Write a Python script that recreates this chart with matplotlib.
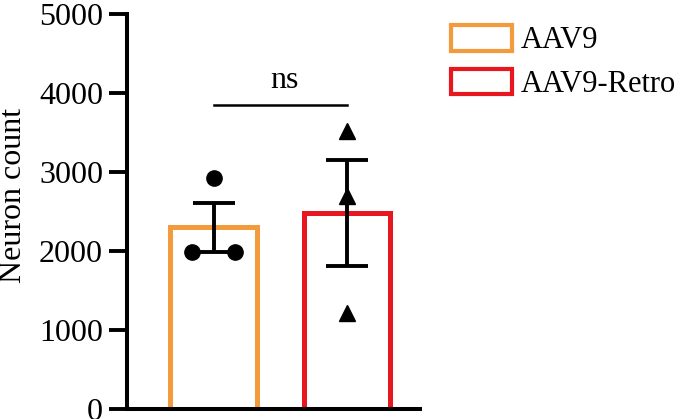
import matplotlib

matplotlib.use("Agg")
import matplotlib.pyplot as plt
import numpy as np
from matplotlib.patches import Patch

plt.rcParams["font.family"] = ["Liberation Serif", "DejaVu Serif"]

groups = ["AAV9", "AAV9-Retro"]
colors = ["#f39b3c", "#e8161e"]
aav9_points = [2920, 1990, 1990]
retro_points = [3520, 2690, 1220]
aav9_jitter = [0.0, -0.16, 0.16]
retro_jitter = [0.0, 0.0, 0.0]
sig_label = "ns"
sig_height = 3840

FS = 23

fig = plt.figure(figsize=(6.85, 4.19), dpi=100)
ax = fig.add_axes([0.185, 0.024, 0.428, 0.943])

x = np.arange(len(groups))
data = [np.array(aav9_points), np.array(retro_points)]
means = [d.mean() for d in data]
sems = [d.std(ddof=1) / np.sqrt(len(d)) for d in data]

ax.bar(x, means, width=0.65, facecolor="white", edgecolor=colors,
       linewidth=3.6, zorder=1)
ax.errorbar(x, means, yerr=sems, fmt="none", ecolor="black",
            elinewidth=2.8, capsize=15, capthick=2.8, zorder=3)

ax.plot(x[0] + np.array(aav9_jitter), aav9_points, "o", color="black",
        markersize=11, zorder=4)
ax.plot(x[1] + np.array(retro_jitter), retro_points, "^", color="black",
        markersize=11, zorder=4)

ax.plot([x[0], x[1]], [sig_height, sig_height], color="black", lw=1.8)
ax.text((x[0] + x[1]) / 2 + 0.03, sig_height + 130, sig_label, ha="center",
        va="bottom", fontsize=FS)

ax.set_xlim(-0.654, 1.55)
ax.set_ylim(0, 5000)
ax.set_yticks(range(0, 5001, 1000))
ax.set_xticks([])
ax.set_ylabel("Neuron count", fontsize=FS, va="center")
ax.yaxis.set_label_coords(-0.385, 0.54)
ax.tick_params(axis="y", labelsize=FS, width=2.8, length=13, pad=4)
for side in ["top", "right"]:
    ax.spines[side].set_visible(False)
for side in ["left", "bottom"]:
    ax.spines[side].set_linewidth(2.9)

handles = [Patch(facecolor="white", edgecolor=c, linewidth=3.0) for c in colors]
fig.legend(handles, groups, loc="upper left", bbox_to_anchor=(0.658, 0.94),
           frameon=False, fontsize=22, handlelength=2.0, handleheight=0.9,
           handletextpad=0.3, labelspacing=0.45, borderpad=0, borderaxespad=0)

fig.savefig("out.png", dpi=100)
